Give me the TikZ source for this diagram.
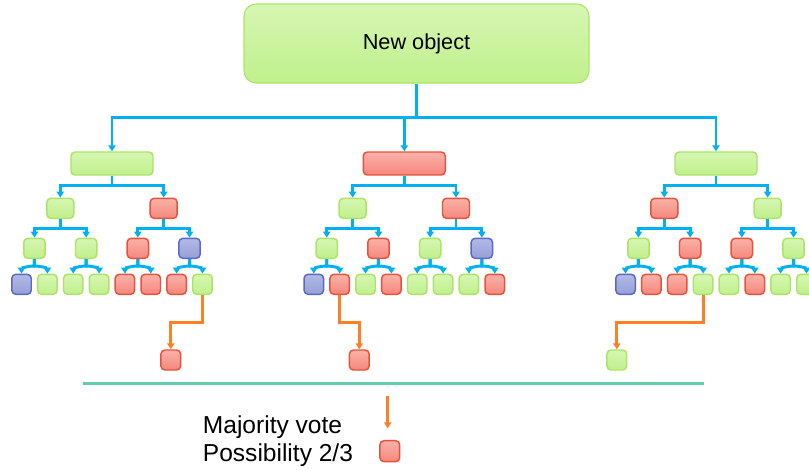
\documentclass[tikz,border=0pt]{standalone}
\usepackage{fontspec}
\setmainfont{Liberation Sans}
\usetikzlibrary{arrows.meta}

\definecolor{linkblue}{RGB}{0,176,240}
\definecolor{voteorange}{RGB}{255,127,39}
\definecolor{rulegreen}{RGB}{95,205,170}
\definecolor{greenline}{RGB}{172,228,105}
\definecolor{greentop}{RGB}{214,246,178}
\definecolor{greenbot}{RGB}{192,240,140}
\definecolor{redline}{RGB}{232,82,60}
\definecolor{redtop}{RGB}{250,178,168}
\definecolor{redbot}{RGB}{245,135,125}
\definecolor{blueline}{RGB}{90,105,195}
\definecolor{bluetop}{RGB}{178,185,230}
\definecolor{bluebot}{RGB}{150,160,215}

\begin{document}
\begin{tikzpicture}[x = 0.75pt, y = -0.75pt,
    > = {Triangle[length=4.5pt, width=5.5pt]},
    box/.style = {draw, line width=1.1pt, rounded corners=3pt, inner sep=0pt, minimum height=15pt},
    gbox/.style = {box, draw=greenline, top color=greentop, bottom color=greenbot},
    rbox/.style = {box, draw=redline, top color=redtop, bottom color=redbot},
    bbox/.style = {box, draw=blueline, top color=bluetop, bottom color=bluebot},
    bar/.style = {linkblue, line width=2.2pt, ->},
    vote/.style = {voteorange, line width=2.2pt, ->}]

        % Page size, in pixels of the picture.
        \useasboundingbox (0,0) rectangle (809,469);

        % The object that is to be classified.
        \node[gbox, minimum width=258.75pt, minimum height=59.25pt,
              rounded corners=9pt, line width=0.8pt] (root) at (416.5,43.5)
              {\fontsize{16.3}{19}\selectfont New object};
        \draw[bar, -] (root.south) -- ++(0,33.5) coordinate (hub);

        % Loop through the three trees: name, centre, colours of each level, winning leaf.
        \foreach \tr/\cx/\colA/\colB/\colC/\colD/\win/\colW/\wx in {%
            a/112/g/{g,r}/{g,g,r,b}/{b,g,g,g,r,r,r,g}/7/r/170.8,
            b/404.3/r/{g,r}/{g,r,g,b}/{b,r,g,r,g,g,g,r}/1/r/359.3,
            c/716/g/{r,g}/{g,r,r,g}/{b,r,r,g,g,r,g,g}/3/g/616.8}{

            % Top node of the tree, fed from the object.
            \node[\colA box, minimum width=61.5pt, minimum height=17.25pt] (\tr1) at (\cx,163.5) {};
            \draw[bar] (hub) -| (\tr1.north);

            % Second level.
            \foreach \c [count=\i from 0] in \colB {
                \node[\c box, minimum width=20.25pt] (\tr2-\i) at ({\cx+(2*\i-1)*51.7},208.3) {};
                \draw[bar] (\tr1.south) -- ++(0,10) -| (\tr2-\i.north);
            }

            % Third level.
            \foreach \c [count=\i from 0, evaluate=\i as \p using int(\i/2)] in \colC {
                \node[\c box, minimum width=16pt] (\tr3-\i) at ({\cx+(\i-1.5)*51.7},248.3) {};
                \draw[bar] (\tr2-\p.south) -- ++(0,9) -| (\tr3-\i.north);
            }

            % Leaves, with the curved forks.
            \foreach \c [count=\i from 0, evaluate=\i as \p using int(\i/2),
                         evaluate=\i as \s using {2*mod(\i,2)-1}] in \colD {
                \node[\c box, minimum width=14.6pt] (\tr4-\i) at ({\cx+(\i-3.5)*25.85},284.3) {};
                \draw[bar] (\tr3-\p.south) -- ++(0,7)
                    .. controls +(\s*8,0) and +(0,-5) .. (\tr4-\i.north);
            }

            % Answer of the tree.
            \node[\colW box, minimum width=14.8pt] (\tr5) at (\wx,360) {};
            \draw[vote] (\tr4-\win.south) -- ++(0,27.4) -| (\tr5.north);
        }

        % Rule above the vote.
        \draw[rulegreen, line width=1.8pt] (83,383.3) -- (704,383.3);

        % The vote and its result.
        \node[anchor=base west, inner sep=0pt, font=\fontsize{18.4}{22}\selectfont] (majority) at (202.7,433.3) {Majority vote};
        \node[anchor=base west, inner sep=0pt, font=\fontsize{18.4}{22}\selectfont] (possibility) at (202.7,461.7) {Possibility 2/3};
        \coordinate (vote top) at (387.7,396);
        \coordinate (vote tip) at (387.7,428.3);
        \draw[vote] (vote top) -- (vote tip);
        \node[rbox, minimum width=14.8pt, minimum height=15.75pt] (key) at (389.8,451.2) {};
    \end{tikzpicture}
\end{document}
